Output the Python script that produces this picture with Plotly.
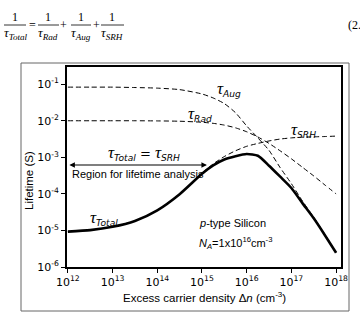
import plotly.graph_objects as go

# ---- data ----
dn = [1e12, 3.16e12, 1e13, 3.16e13, 1e14, 3.16e14, 1e15, 1.78e15, 3.16e15, 5.62e15,
      1e16, 1.78e16, 3.16e16, 5.62e16, 1e17, 1.78e17, 3.16e17, 5.62e17, 1e18]
tau_total = [9.3e-6, 1.02e-5, 1.26e-5, 1.82e-5, 3.55e-5, 9.8e-5, 3.55e-4, 6.0e-4, 8.7e-4, 1.07e-3,
             1.23e-3, 1.10e-3, 5.9e-4, 2.95e-4, 1.45e-4, 5.5e-5, 2.14e-5, 7.4e-6, 2.45e-6]
tau_srh = [9.3e-6, 1.02e-5, 1.26e-5, 1.82e-5, 3.55e-5, 1.0e-4, 3.7e-4, 6.6e-4, 1.05e-3, 1.51e-3,
           2.0e-3, 2.4e-3, 2.8e-3, 3.16e-3, 3.4e-3, 3.55e-3, 3.63e-3, 3.7e-3, 3.8e-3]
tau_rad = [1.0e-2, 1.0e-2, 1.0e-2, 1.0e-2, 9.9e-3, 9.7e-3, 9.1e-3, 8.5e-3, 7.6e-3, 6.4e-3,
           5.0e-3, 3.6e-3, 2.4e-3, 1.5e-3, 9.1e-4, 5.3e-4, 3.1e-4, 1.75e-4, 1.0e-4]
tau_aug = [8.3e-2, 8.3e-2, 8.3e-2, 8.1e-2, 7.8e-2, 7.1e-2, 5.4e-2, 4.2e-2, 2.95e-2, 1.66e-2,
           7.2e-3, 3.4e-3, 1.55e-3, 5.2e-4, 1.9e-4, 6.3e-5, 2.3e-5, 7.8e-6, 2.5e-6]

x_tick_vals = [1e12, 1e13, 1e14, 1e15, 1e16, 1e17, 1e18]
x_tick_text = ["10<sup>12</sup>", "10<sup>13</sup>", "10<sup>14</sup>", "10<sup>15</sup>",
               "10<sup>16</sup>", "10<sup>17</sup>", "10<sup>18</sup>"]
y_tick_vals = [1e-6, 1e-5, 1e-4, 1e-3, 1e-2, 1e-1]
y_tick_text = ["10<sup>-6</sup>", "10<sup>-5</sup>", "10<sup>-4</sup>", "10<sup>-3</sup>",
               "10<sup>-2</sup>", "10<sup>-1</sup>"]

SANS = "DejaVu Sans"
TEXT_SANS = "Liberation Sans"
SERIF = "Liberation Serif"
ML, MR, MT, MB = 67, 19, 67, 48
W, H = 360, 315
PW, PH = W - ML - MR, H - MT - MB


def px(x):
    return (x - ML) / PW


def py(y):
    return (H - MB - y) / PH


fig = go.Figure()
dash_style = dict(color="black", width=1, dash="5px,3px")
for ys in (tau_rad, tau_aug, tau_srh):
    fig.add_trace(go.Scatter(x=dn, y=ys, mode="lines", line=dict(shape="spline", smoothing=0.6, **dash_style),
                             hoverinfo="skip"))
fig.add_trace(go.Scatter(x=dn, y=tau_total, mode="lines",
                         line=dict(color="black", width=2.6, shape="spline", smoothing=0.6),
                         hoverinfo="skip"))

TAU = '<span style="font-family:%s;font-size:17px">τ</span>' % SERIF

ann = []


def text(t, x, y, size=10.5, family=TEXT_SANS, xanchor="center", **kw):
    ann.append(dict(text=t, x=px(x), y=py(y), xref="paper", yref="paper", xanchor=xanchor, yanchor="middle",
                    showarrow=False, font=dict(family=family, size=size, color="black"), **kw))


def tau_label(sub, x, y, size=13):
    text("<i>%s<sub>%s</sub></i>" % (TAU, sub), x, y, size=size, family=SANS)


tau_label("Aug", 229, 89)
tau_label("Rad", 200, 114)
tau_label("SRH", 303, 130)
tau_label("Total", 104, 218)
text("<i>%s<sub>Total</sub></i> = <i>%s<sub>SRH</sub></i>" % (TAU, TAU), 144, 153, size=13, family=SANS)
text("Region for lifetime analysis", 70, 174, size=11, xanchor="left")
text("<i>p</i>-type Silicon", 197, 223, size=11, xanchor="left")
text("<i>N<sub>A</sub></i>=1x10<sup>16</sup>cm<sup>-3</sup>", 197, 243, size=11, xanchor="left")
# arrow for region
ann.append(dict(text="", x=15.11, y=-3.21, ax=12.0, ay=-3.21, xref="x", yref="y", axref="x", ayref="y",
                showarrow=True, arrowside="end+start", arrowhead=2, arrowsize=1, arrowwidth=1.1,
                arrowcolor="black"))
# axis titles
text("Excess carrier density Δ<i>n</i> (cm<sup>-3</sup>)", 204, 297, size=11.5)
text("Lifetime (S)", 29, 181, size=11.5, textangle=-90)

# equation at top
shapes = []
for cx, x0, x1, sub in [(15, 4, 26, "Total"), (48, 38, 59, "Rad"), (81, 71, 91, "Aug"), (112, 101, 124, "SRH")]:
    text("1", cx, 17, size=12, family=SERIF)
    text("<i>τ<sub>%s</sub></i>" % sub, cx, 33, size=13, family=SERIF)
    shapes.append(dict(type="line", xref="paper", yref="paper", x0=px(x0), x1=px(x1), y0=py(25), y1=py(25),
                       line=dict(color="black", width=0.8)))
for cx, sym in [(32, "="), (63, "+"), (96, "+")]:
    text(sym, cx, 25, size=12, family=SERIF)
text("(2.4", 346, 25, size=12, family=SERIF, xanchor="left")

# outer frame
shapes.append(dict(type="rect", xref="paper", yref="paper", x0=px(21), x1=px(349), y0=py(311), y1=py(63),
                   line=dict(color="#666", width=1), layer="below"))

axis_common = dict(type="log", showline=True, linewidth=1.6, linecolor="black", mirror=True, ticks="outside",
                   ticklen=4, tickwidth=1, tickcolor="black", showgrid=False, zeroline=False,
                   tickfont=dict(family=SANS, size=11, color="black"))
fig.update_layout(
    width=W, height=H, margin=dict(l=ML, r=MR, t=MT, b=MB),
    paper_bgcolor="white", plot_bgcolor="white", showlegend=False,
    xaxis=dict(range=[11.98, 18.11], tickvals=x_tick_vals, ticktext=x_tick_text, **axis_common),
    yaxis=dict(range=[-6, -0.53], tickvals=y_tick_vals, ticktext=y_tick_text, **axis_common),
    annotations=ann, shapes=shapes,
)
fig.write_html("out.html")
